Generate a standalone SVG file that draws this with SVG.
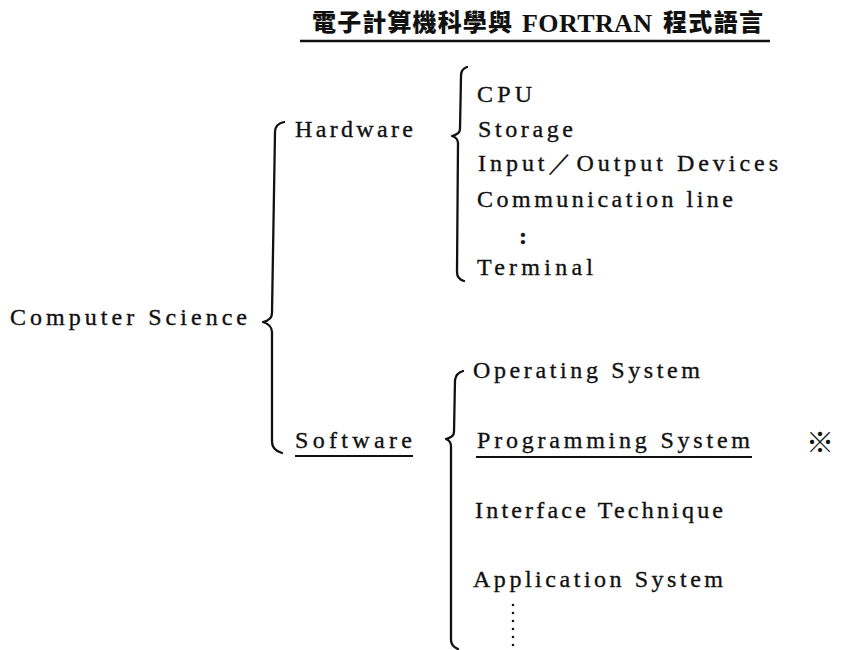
<svg xmlns="http://www.w3.org/2000/svg" width="845" height="650" viewBox="0 0 845 650">
<style>
.t{font-family:"Liberation Serif","Times New Roman",serif;font-size:24px;fill:#111;stroke:#111;stroke-width:0.35;}
.cjk{font-family:"Noto Sans CJK TC","Noto Sans CJK SC",sans-serif;font-size:24px;font-weight:900;fill:#111;}
.tb{font-family:"Liberation Serif",serif;font-size:26px;font-weight:bold;fill:#111;}
.brace{fill:none;stroke:#111;stroke-width:2.3;stroke-linecap:round;stroke-linejoin:round;}
.ul{stroke:#111;stroke-width:1.8;}
</style>
<rect width="845" height="650" fill="#fff"/>
<g id="title">
  <text class="cjk" x="312" y="31" textLength="200" lengthAdjust="spacing">電子計算機科學與</text>
  <text class="tb" x="522" y="32" textLength="130" lengthAdjust="spacing">FORTRAN</text>
  <text class="cjk" x="663" y="31" textLength="100" lengthAdjust="spacing">程式語言</text>
  <line x1="300" y1="41" x2="770" y2="41" stroke="#111" stroke-width="2.3"/>
</g>
<g id="connectors">
  <path class="brace" d="M284,122 Q275,124 275,132 L272,313 Q272,320 263,322 Q272,325 272,332 L272,442 Q272,450 282,453"/>
  <path class="brace" d="M467,67 Q461,69 461,76 L460,129 Q460,134 452,136 Q458,138 458,143 L457,272 Q457,279 464,281"/>
  <path class="brace" d="M463,371 Q456,373 455,380 L454,432 Q454,437 446,439 Q451,441 451,446 L451,640 Q451,646 458,649"/>
</g>
<g id="computer-science"><text class="t" x="10" y="325" textLength="237" lengthAdjust="spacing">Computer  Science</text></g>
<g id="hardware"><text class="t" x="295" y="137" textLength="118" lengthAdjust="spacing">Hardware</text></g>
<g id="software">
  <text class="t" x="295" y="448" textLength="117" lengthAdjust="spacing">Software</text>
  <line class="ul" x1="295" y1="456" x2="413" y2="456"/>
</g>
<g id="cpu"><text class="t" x="477" y="102" textLength="55" lengthAdjust="spacing">CPU</text></g>
<g id="storage"><text class="t" x="478" y="137" textLength="95" lengthAdjust="spacing">Storage</text></g>
<g id="io"><text class="t" x="478" y="171" textLength="300" lengthAdjust="spacing">Input／Output Devices</text></g>
<g id="comm"><text class="t" x="477" y="207" textLength="256" lengthAdjust="spacing">Communication line</text></g>
<g id="hw-dots"><text class="t" x="519" y="244" font-weight="bold">:</text></g>
<g id="terminal"><text class="t" x="477" y="275" textLength="116" lengthAdjust="spacing">Terminal</text></g>
<g id="os"><text class="t" x="473" y="378" textLength="227" lengthAdjust="spacing">Operating System</text></g>
<g id="ps">
  <text class="t" x="477" y="448" textLength="273" lengthAdjust="spacing">Programming System</text>
  <line class="ul" x1="476" y1="457" x2="752" y2="457"/>
</g>
<g id="mark"><text x="806" y="453" style="font-family:'Noto Sans CJK TC','Noto Sans CJK SC',sans-serif;font-size:28px;font-weight:900;fill:#111;">※</text></g>
<g id="it"><text class="t" x="475" y="518" textLength="248" lengthAdjust="spacing">Interface Technique</text></g>
<g id="as"><text class="t" x="473" y="587" textLength="250" lengthAdjust="spacing">Application System</text></g>
<g id="sw-dots"><line x1="513" y1="605" x2="513" y2="650" stroke="#111" stroke-width="2.6" stroke-linecap="round" stroke-dasharray="0 8"/></g>
</svg>
